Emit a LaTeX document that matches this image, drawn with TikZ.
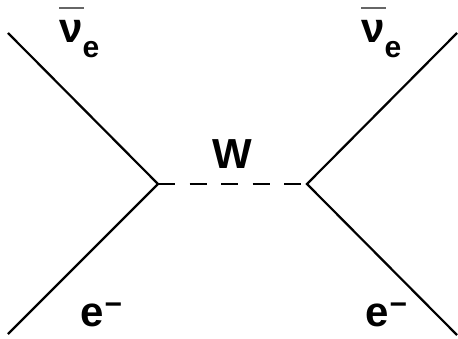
\documentclass[tikz,border=0pt]{standalone}
\usepackage{fontspec}
\setmainfont{Liberation Sans}
\usepackage{tikz}
\usetikzlibrary{positioning,calc}
% labels of the particles
\newcommand{\antinue}{\makebox[0pt][l]{\raisebox{34pt}{\color{black!60}\rule{25pt}{1.6pt}}}ν\raisebox{-15pt}{\fontsize{30}{30}\selectfont e}}
\newcommand{\elecminus}{e\kern1pt\raisebox{0.28em}{\fontsize{30}{30}\selectfont −}}
\tikzset{
    % Fermion lines
    fermion/.style={
        line width=2.2pt,
        draw=black,
    },
    % W boson line
    boson/.style={
        line width=2.2pt,
        draw=black,
        dash pattern=on 17pt off 14.5pt,
    },
    % Text of the labels
    particle label/.style={
        font=\fontsize{42}{42}\selectfont\bfseries,
        text=black,
        inner sep=0pt,
    },
}
\begin{document}
\begin{tikzpicture}[x=1pt, y=-1pt]
    \useasboundingbox (0,0) rectangle (458,339);
    \coordinate (vl) at (158,184);
    \coordinate (vr) at (307,184);
    \coordinate (tl) at (8,33);
    \coordinate (bl) at (8,334);
    \coordinate (tr) at (457,33);
    \coordinate (br) at (457,335);

    \draw [fermion] (tl) -- (vl) -- (bl);
    \draw [fermion] (tr) -- (vr) -- (br);
    \draw [boson] (vl) -- (vr);

    \node (nul) [particle label, anchor=base west] at (59,43) {\antinue};
    \node (nur) [particle label, anchor=base west] at (361,43) {\antinue};
    \node (w) [particle label, anchor=base] at (232,169) {W};
    \node (el) [particle label, anchor=base west] at (80,326) {\elecminus};
    \node (er) [particle label, anchor=base west] at (365,326) {\elecminus};
\end{tikzpicture}
\end{document}
